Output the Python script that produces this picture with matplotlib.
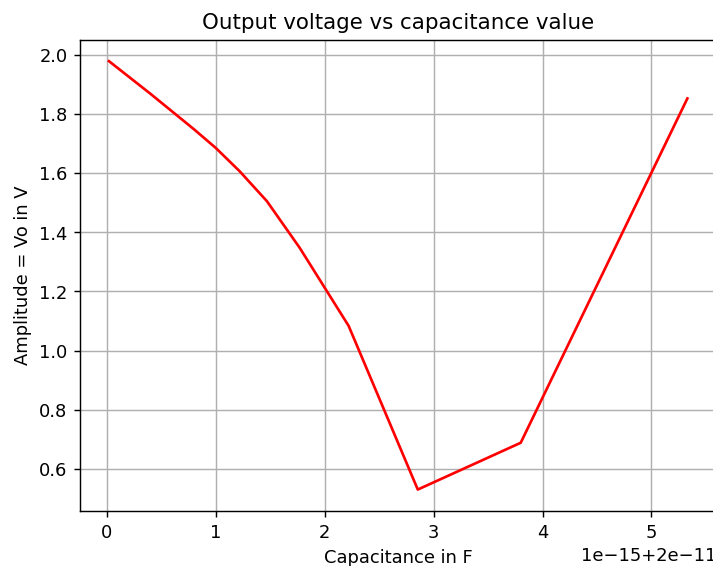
import matplotlib
matplotlib.use("Agg")
import matplotlib.pyplot as plt
import numpy as np

# capacitance offsets in units of 1e-15 F above 2e-11 F
cap_offset_fF = [0.02, 0.40, 0.80, 1.00, 1.22, 1.47, 1.77, 2.22, 2.855, 3.80, 5.33]
amplitude_V = [1.978, 1.868, 1.748, 1.685, 1.606, 1.505, 1.348, 1.084, 0.531, 0.689, 1.852]

capacitance = [2e-11 + c * 1e-15 for c in cap_offset_fF]

DPI = 128.6
W, H = 713, 566
fig = plt.figure(figsize=((W + 0.3) / DPI, (H + 0.3) / DPI), dpi=DPI)
ax = fig.add_axes([80 / W, 1 - 511 / H, (716 - 80) / W, (511 - 40) / H])
ax.plot(capacitance, amplitude_V, color="red", linewidth=1.5)
ax.set_title("Output voltage vs capacitance value")
ax.set_xlabel("Capacitance in F")
ax.set_ylabel("Amplitude = Vo in V")
ax.grid(True)
fig.savefig("out.png", dpi=DPI)
